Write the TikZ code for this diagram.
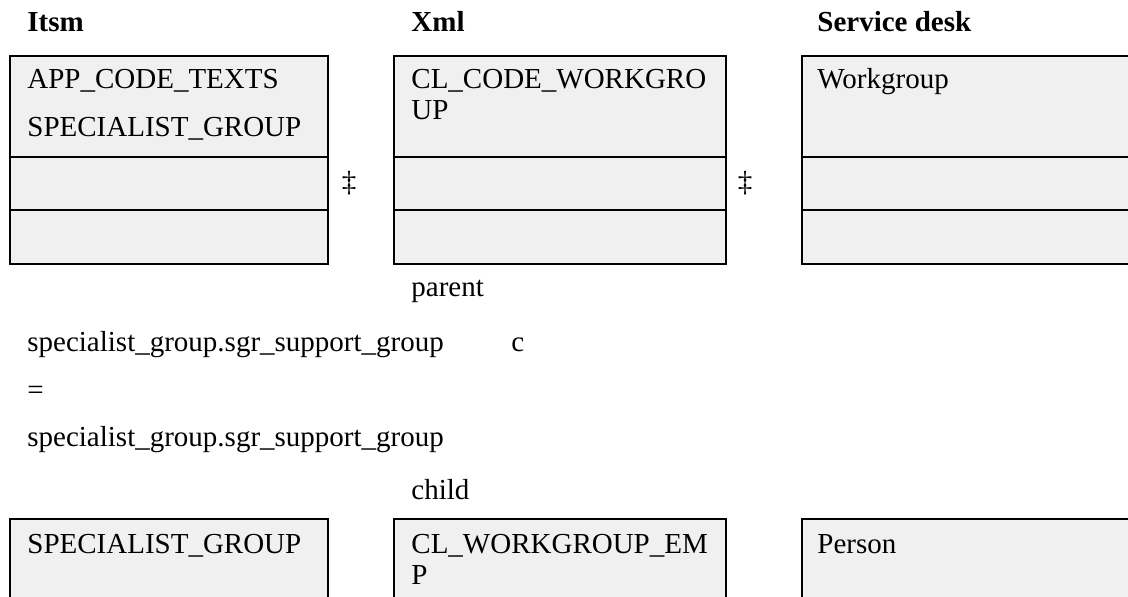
\documentclass[tikz,border=0pt]{standalone}
\usepackage{fontspec}
\setmainfont{Liberation Serif}
\definecolor{tblgray}{HTML}{F0F0F0}
\tikzset{
	tbl/.style={draw=black, fill=tblgray, line width=0.85pt},
	txt/.style={anchor=base west, inner sep=0pt, align=left, font=\fontsize{14.5pt}{15.5pt}\selectfont},
	hdr/.style={txt, font=\fontsize{14.5pt}{15.5pt}\selectfont\bfseries},
	dag/.style={inner sep=0pt, font=\fontsize{14.5pt}{15.5pt}\selectfont}
}
\begin{document}
\begin{tikzpicture}[x=0.5pt, y=-0.5pt]
		\useasboundingbox (0,0) rectangle (1128,597);
		\clip (0,0) rectangle (1128,597);
		\foreach \xa/\xb in {10/328, 394/726, 802/1140} {
			\draw[tbl] (\xa,56) rectangle (\xb,157);
			\draw[tbl] (\xa,157) rectangle (\xb,210);
			\draw[tbl] (\xa,210) rectangle (\xb,264);
			\draw[tbl] (\xa,519) rectangle (\xb,620);
		}
		\node[hdr] (itsm) at (27,32) {Itsm};
		\node[hdr] (xml) at (411,32) {Xml};
		\node[hdr] (sdesk) at (817,32) {Service desk};
		\node[txt] (itsmtop) at (27,89) {APP\_CODE\_TEXTS};
		\node[txt] (itsmtop2) at (27,137) {SPECIALIST\_GROUP};
		\node[txt] (xmltop) at (411,120) {CL\_CODE\_WORKGRO\\UP};
		\node[txt] (sdtop) at (817,89) {Workgroup};
		\node[dag] (dagA) at (349,183) {‡};
		\node[dag] (dagB) at (745,183) {‡};
		\node[txt] (parent) at (411,297) {parent};
		\node[txt] (cond1) at (27,352) {specialist\_group.sgr\_support\_group};
		\node[txt] (card) at (511,352) {c};
		\node[txt] (eq) at (27,400) {=};
		\node[txt] (cond2) at (27,447) {specialist\_group.sgr\_support\_group};
		\node[txt] (child) at (411,500) {child};
		\node[txt] (itsmbot) at (27,553) {SPECIALIST\_GROUP};
		\node[txt] (xmlbot) at (411,584) {CL\_WORKGROUP\_EM\\P};
		\node[txt] (sdbot) at (817,553) {Person};
	\end{tikzpicture}
\end{document}
